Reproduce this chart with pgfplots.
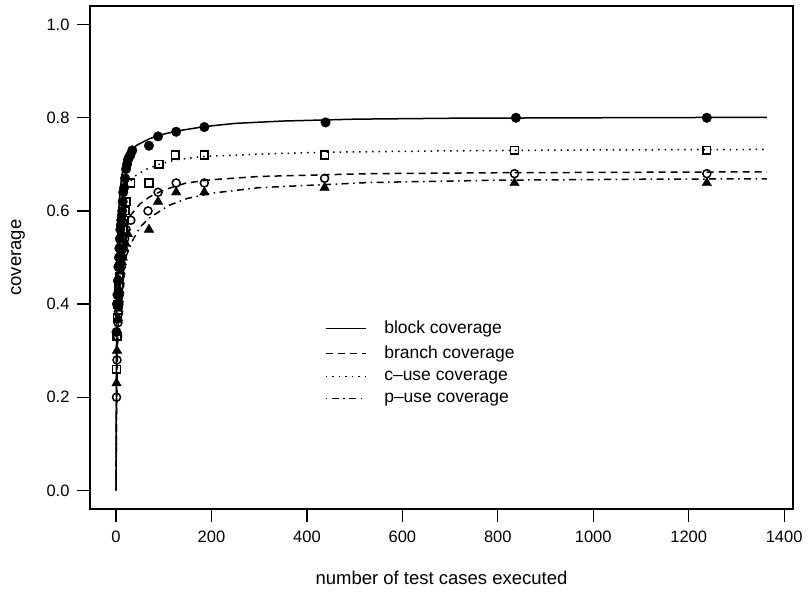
\documentclass[border=0pt]{standalone}
\usepackage{pgfplots}
\usepackage{pgfplotstable}
\pgfplotsset{compat=1.18}
\usepackage{fontspec}
\setmainfont{Liberation Sans}

% fitted curves
\pgfplotstableread{
x y
0 0
0.5 0.20
1 0.33
2 0.45
3 0.52
5 0.59
8 0.64
12 0.675
16 0.70
20 0.715
30 0.730
45 0.742
70 0.755
100 0.765
130 0.772
185 0.781
250 0.788
350 0.793
500 0.797
700 0.799
1000 0.800
1364 0.801
}\blockcurve

\pgfplotstableread{
x y
0 0
1 0.20
3 0.40
6 0.50
10 0.54
20 0.57
30 0.59
50 0.615
70 0.63
100 0.645
147 0.66
200 0.667
300 0.674
531 0.680
800 0.682
1100 0.683
1364 0.684
}\branchcurve

\pgfplotstableread{
x y
0 0
1 0.20
3 0.40
6 0.55
10 0.61
23 0.655
40 0.675
60 0.688
90 0.700
126 0.710
185 0.717
300 0.722
437 0.726
700 0.729
1000 0.731
1364 0.732
}\cusecurve

\pgfplotstableread{
x y
0 0
1 0.15
3 0.30
6 0.40
10 0.45
20 0.50
34 0.535
50 0.565
70 0.585
111 0.612
150 0.627
200 0.638
300 0.650
531 0.661
800 0.666
1100 0.668
1364 0.669
}\pusecurve

% observed points
\pgfplotstableread{
x y
1 0.34
2 0.40
3 0.42
4 0.45
5 0.48
6 0.50
7 0.52
8 0.54
9 0.56
10 0.57
11 0.58
12 0.59
13 0.60
14 0.62
15 0.64
17 0.65
19 0.67
21 0.69
23 0.70
25 0.71
27 0.715
30 0.72
34 0.73
69 0.74
88 0.76
126 0.77
185 0.78
439 0.79
838 0.80
1238 0.80
}\blockpts

\pgfplotstableread{
x y
1 0.20
2 0.28
3 0.33
4 0.36
5 0.38
6 0.40
7 0.42
8 0.44
9 0.46
11 0.48
13 0.50
15 0.52
18 0.54
21 0.56
31 0.58
67 0.60
88 0.64
126 0.66
185 0.66
437 0.67
835 0.68
1238 0.68
}\branchpts

\pgfplotstableread{
x y
1 0.26
2 0.33
3 0.37
4 0.40
5 0.42
6 0.44
7 0.46
8 0.48
9 0.50
11 0.52
13 0.54
15 0.56
17 0.58
19 0.60
21 0.62
31 0.66
69 0.66
90 0.70
124 0.72
185 0.72
437 0.72
835 0.73
1238 0.73
}\cusepts

\pgfplotstableread{
x y
1 0.23
2 0.30
3 0.34
4 0.37
5 0.39
6 0.41
7 0.43
8 0.45
10 0.47
12 0.49
14 0.50
17 0.52
20 0.53
25 0.55
69 0.56
88 0.62
126 0.64
185 0.64
437 0.65
835 0.66
1238 0.66
}\pusepts

\begin{document}
\begin{tikzpicture}
\begin{axis}[
  name=main,
  scale only axis,
  width=703bp, height=503bp,
  xmin=-54.6, xmax=1418.6,
  ymin=-0.04, ymax=1.04,
  axis line style={line width=1.2bp},
  xtick={0,200,400,600,800,1000,1200,1400},
  ytick={0,0.2,0.4,0.6,0.8,1.0},
  tick pos=left,
  tick align=outside,
  major tick length=13bp,
  every tick/.style={line width=1.2bp, black},
  /pgf/number format/assume math mode=true,
  x tick label style={/pgf/number format/1000 sep={}, font=\fontsize{16.5bp}{19bp}\selectfont, yshift=-5bp},
  y tick label style={/pgf/number format/.cd, fixed, fixed zerofill, precision=1, /tikz/.cd, font=\fontsize{16.5bp}{19bp}\selectfont, xshift=-4bp},
  xlabel={number of test cases executed},
  ylabel={coverage},
  xlabel style={at={(axis description cs:0.5,-0.137)}, anchor=center, font=\fontsize{18.5bp}{22bp}\selectfont},
  ylabel style={at={(axis description cs:-0.1024,0.5)}, anchor=center, font=\fontsize{18.5bp}{22bp}\selectfont},
  legend style={at={(rel axis cs:0.330,0.382)}, anchor=north west, draw=none, fill=none,
    font=\fontsize{17.5bp}{21bp}\selectfont, row sep=7bp,
    /tikz/every odd column/.append style={column sep=16bp}},
  legend cell align=left,
  legend image code/.code={\draw[#1, line width=1.1bp] (0bp,0bp) -- (40bp,0bp);},
  clip=false,
]
\addplot[black, line width=1.5bp, solid, no marks] table {\blockcurve};
\addlegendentry{block coverage}
\addplot[black, line width=1.5bp, dash pattern=on 7bp off 5bp, no marks] table {\branchcurve};
\addlegendentry{branch coverage}
\addplot[black, line width=1.5bp, dash pattern=on 1.5bp off 5bp, no marks] table {\cusecurve};
\addlegendentry{c--use coverage}
\addplot[black, line width=1.5bp, dash pattern=on 1.5bp off 4.5bp on 7bp off 4.5bp, no marks] table {\pusecurve};
\addlegendentry{p--use coverage}

\addplot[only marks, forget plot, mark=*, mark size=4.8bp, black] table {\blockpts};
\addplot[only marks, forget plot, mark=o, mark size=4bp, black, line width=1.5bp, mark options={fill=white}] table {\branchpts};
\addplot[only marks, forget plot, mark=square, mark size=3.8bp, black, line width=1.5bp, mark options={fill=white}] table {\cusepts};
\addplot[only marks, forget plot, mark=triangle*, mark size=5.5bp, black] table {\pusepts};
\end{axis}
\path ([shift={(-90bp,-86bp)}]main.south west) rectangle ([shift={(15bp,6bp)}]main.north east);
\end{tikzpicture}
\end{document}
